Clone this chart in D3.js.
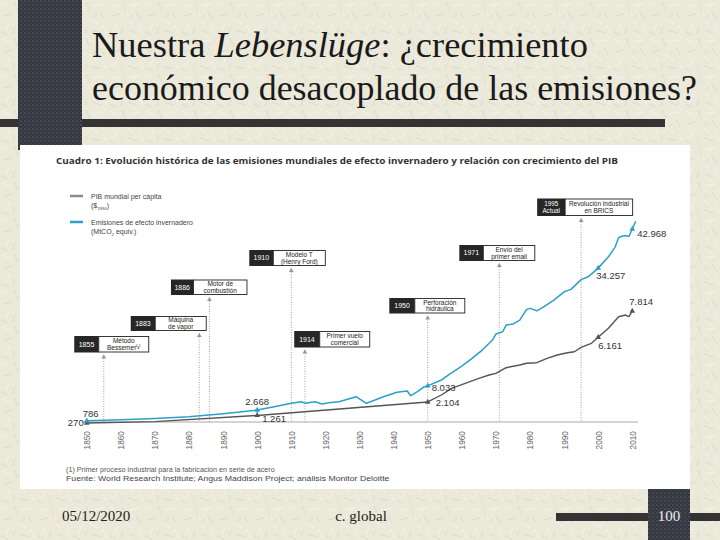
<!DOCTYPE html>
<html>
<head>
<meta charset="utf-8">
<script src="https://cdn.jsdelivr.net/npm/d3@7/dist/d3.min.js"></script>
<style>
  html, body { margin: 0; padding: 0; background: #ebe9da; }
  svg { display: block; }
</style>
</head>
<body>
<svg id="chart" width="720" height="540"></svg>
<script>
// ---------------- DATA ----------------
const emisYears  = [1850,1860,1870,1880,1890,1900,1905,1910,1913,1914,1917,1919,1921,1924,1929,1932,1934,1937,1941,1944,1945,1947,1949,1950,1954,1956,1960,1963,1966,1969,1970,1972,1973,1975,1977,1979,1980,1982,1984,1987,1990,1992,1995,1997,1998,2000,2003,2005,2006,2007,2008,2009,2010,2011];
const emisValues = [270,480,780,1180,1850,2668,3404,4160,4516,4160,4516,4004,4294,4516,5628,4160,4738,5628,6607,6897,5851,6741,7853,8033,9344,10456,12458,14171,16018,18242,19577,20089,21579,21802,22692,25072,25295,24761,25651,27141,28988,29522,31700,32325,32925,34257,36774,38999,41090,41379,41500,41300,42968,44700];

const gdpYears  = [1850,1870,1900,1950,1954,1957,1961,1965,1968,1970,1973,1977,1979,1982,1985,1988,1991,1993,1995,1998,2000,2003,2006,2008,2009,2010];
const gdpValues = [786,873,1261,2104,2543,2963,3277,3590,3798,3904,4256,4425,4532,4569,4845,5052,5197,5259,5535,5786,6161,6727,7455,7562,7455,7814];

const tickYears = [1850,1860,1870,1880,1890,1900,1910,1920,1930,1940,1950,1960,1970,1980,1990,2000,2010];

// labelled values
const emisLabelYears = [1900,1950,2000,2010];
const emisLabels     = ["2.668","8.033","34.257","42.968"];
const gdpLabelYears  = [1900,1950,2000,2010];
const gdpLabels      = ["1.261","2.104","6.161","7.814"];
const startLabels    = ["270","786"];

// milestones
const eventYears  = [1855,1883,1886,1910,1914,1950,1971,1995];
const eventDark   = [["1855"],["1883"],["1886"],["1910"],["1914"],["1950"],["1971"],["1995","Actual"]];
const eventText   = [["Método","Bessemer⁽¹⁾"],["Máquina","de vapor"],["Motor de","combustión"],["Modelo T","(Henry Ford)"],["Primer vuelo","comercial"],["Perforación","hidráulica"],["Envío del","primer email"],["Revolución industrial","en BRICS"]];

const slideTitle1 = ["Nuestra ", "Lebenslüge", ": ¿crecimiento"];
const slideTitle2 = "económico desacoplado de las emisiones?";
const chartTitle  = "Cuadro 1: Evolución histórica de las emisiones mundiales de efecto invernadero y relación con crecimiento del PIB";
const legendGdp   = ["PIB mundial per cápita", "($", "1990", ")"];
const legendEmis  = ["Emisiones de efecto invernadero", "(MtCO", "2", " equiv.)"];
const footnotes   = ["(1)  Primer proceso industrial para la fabricación en serie de acero",
                     "Fuente: World Research Institute; Angus Maddison Project; análisis Monitor Deloitte"];
const footer      = ["05/12/2020", "c. global", "100"];

// ---------------- LAYOUT ----------------
const svg = d3.select("#chart");
const BLUE = "#2ba0c8", GREY = "#555555";
const SERIF = "'Liberation Serif','Times New Roman',serif";
const SANS = "'Open Sans','DejaVu Sans',Arial,sans-serif";
const ARIAL = "'Liberation Sans',Arial,sans-serif";

// squeeze a text element horizontally so it spans targetW px starting at x
function fitText(sel, x, y, targetW) {
  sel.attr("x", 0).attr("y", 0);
  const w = sel.node().getBBox().width;
  sel.attr("transform", `translate(${x},${y}) scale(${targetW / w},1)`);
  return sel;
}

// textures
const defs = svg.append("defs");
const paper = defs.append("pattern").attr("id","paper").attr("patternUnits","userSpaceOnUse").attr("width",36).attr("height",36);
paper.append("rect").attr("width",36).attr("height",36).attr("fill","#ebe9da");
const fib = [[2,3,9,7,"#f6f5ec"],[14,2,18,11,"#dcdac7"],[22,6,31,4,"#f6f5ec"],[28,12,33,20,"#dcdac7"],[4,16,12,14,"#dcdac7"],
             [10,22,6,30,"#f6f5ec"],[17,18,25,24,"#f6f5ec"],[20,30,29,33,"#dcdac7"],[31,26,35,33,"#f6f5ec"],[1,32,8,35,"#dcdac7"],
             [15,27,13,34,"#dcdac7"],[25,14,21,19,"#dcdac7"]];
fib.forEach(f => paper.append("line").attr("x1",f[0]).attr("y1",f[1]).attr("x2",f[2]).attr("y2",f[3]).attr("stroke",f[4]).attr("stroke-width",0.9));
const dots = defs.append("pattern").attr("id","dots").attr("patternUnits","userSpaceOnUse").attr("width",4).attr("height",4);
dots.append("rect").attr("width",4).attr("height",4).attr("fill","#33363f");
dots.append("circle").attr("cx",1).attr("cy",1).attr("r",0.8).attr("fill","#5d6070");
dots.append("circle").attr("cx",3).attr("cy",3).attr("r",0.7).attr("fill","#4a4d5b");

// slide background furniture
svg.append("rect").attr("x",0).attr("y",0).attr("width",720).attr("height",540).attr("fill","url(#paper)");
svg.append("rect").attr("x",0).attr("y",119).attr("width",665).attr("height",8).attr("fill","#333333");
svg.append("rect").attr("x",18).attr("y",0).attr("width",64).attr("height",150).attr("fill","url(#dots)");
svg.append("rect").attr("x",556).attr("y",513).attr("width",164).attr("height",8).attr("fill","#333333");
svg.append("rect").attr("x",648).attr("y",489).attr("width",42).attr("height",51).attr("fill","url(#dots)");

// slide title
const t1 = svg.append("text").attr("font-family",SERIF).attr("font-size",36).attr("fill","#1a1a1a");
t1.append("tspan").text(slideTitle1[0]);
t1.append("tspan").attr("font-style","italic").text(slideTitle1[1]);
t1.append("tspan").text(slideTitle1[2]);
fitText(t1, 92, 57, 496);
const t2 = svg.append("text").attr("font-family",SERIF).attr("font-size",36).attr("fill","#1a1a1a").text(slideTitle2);
fitText(t2, 92, 100, 605);

// chart picture area
svg.append("rect").attr("x",20).attr("y",145).attr("width",670).attr("height",344).attr("fill","#ffffff");

svg.append("text").attr("x",56).attr("y",164)
  .attr("font-family",SANS).attr("font-weight","bold").attr("font-size",8.8).attr("fill","#333")
  .attr("textLength",562).attr("lengthAdjust","spacingAndGlyphs").text(chartTitle);

// legend
svg.append("line").attr("x1",70).attr("x2",83).attr("y1",196).attr("y2",196).attr("stroke","#8a8a8a").attr("stroke-width",2.5);
svg.append("text").attr("x",91).attr("y",199).attr("font-family",ARIAL).attr("font-size",7).attr("fill","#444").text(legendGdp[0]);
const lg2 = svg.append("text").attr("x",91).attr("y",208).attr("font-family",ARIAL).attr("font-size",7).attr("fill","#444");
lg2.append("tspan").text(legendGdp[1]);
lg2.append("tspan").attr("font-size",4.3).attr("dy",1.8).text(legendGdp[2]);
lg2.append("tspan").attr("dy",-1.8).text(legendGdp[3]);
svg.append("line").attr("x1",70).attr("x2",83).attr("y1",222).attr("y2",222).attr("stroke",BLUE).attr("stroke-width",2.5);
svg.append("text").attr("x",91).attr("y",225).attr("font-family",ARIAL).attr("font-size",7).attr("fill","#444").text(legendEmis[0]);
const lg4 = svg.append("text").attr("x",91).attr("y",234).attr("font-family",ARIAL).attr("font-size",7).attr("fill","#444");
lg4.append("tspan").text(legendEmis[1]);
lg4.append("tspan").attr("font-size",4.3).attr("dy",1.8).text(legendEmis[2]);
lg4.append("tspan").attr("dy",-1.8).text(legendEmis[3]);

// scales
const x = d3.scaleLinear().domain([1850, 2010]).range([86.7, 632.3]);
const yEm = d3.scaleLinear().domain([0, 42968]).range([422, 229]);
const yGdp = d3.scaleLinear().domain([786, 7814]).range([423, 311]);
const AXIS_Y = 422;

// milestone annotations
const boxTop   = [336, 316, 279.5, 250, 331, 298, 245, 198.5];
const boxShift = [-29.5, -68.5, -38.5, -42, -10.7, -38.4, -40, -44];
const darkW    = [24.5, 24.5, 22.5, 24, 25.5, 25.5, 24, 28];
const whiteW   = [50, 51, 53.5, 52, 50, 50, 51.5, 67.5];
const boxH     = [16.5, 15, 15.5, 16, 16.5, 15.5, 16, 17.5];

eventYears.forEach((yr, i) => {
  const ax = x(yr);
  const bx = ax + boxShift[i], by = boxTop[i], h = boxH[i];
  const ay = by + h + 3.5;
  svg.append("line").attr("x1",ax).attr("x2",ax).attr("y1",ay).attr("y2",AXIS_Y)
    .attr("stroke","#9a9a9a").attr("stroke-width",0.9).attr("stroke-dasharray","1,1.5");
  svg.append("path").attr("d", d3.symbol(d3.symbolTriangle, 10)())
    .attr("transform",`translate(${ax},${ay+1})`).attr("fill","#9a9a9a");
  svg.append("rect").attr("x",bx).attr("y",by).attr("width",darkW[i]).attr("height",h).attr("fill","#262626");
  svg.append("rect").attr("x",bx+darkW[i]).attr("y",by+0.5).attr("width",whiteW[i]).attr("height",h-1)
    .attr("fill","#fff").attr("stroke","#222").attr("stroke-width",0.9);
  const dl = eventDark[i];
  dl.forEach((s, k) => {
    svg.append("text").attr("x",bx+darkW[i]/2).attr("y",by+h/2+2.4+(k-(dl.length-1)/2)*6.8)
      .attr("text-anchor","middle").attr("font-family",ARIAL).attr("font-size",dl.length>1?6.3:7).attr("fill","#fff").text(s);
  });
  const wl = eventText[i];
  wl.forEach((s, k) => {
    svg.append("text").attr("x",bx+darkW[i]+whiteW[i]/2).attr("y",by+h/2+2.3+(k-0.5)*6.8)
      .attr("text-anchor","middle").attr("font-family",ARIAL).attr("font-size",6.5).attr("fill","#222").text(s);
  });
});

// axis
svg.append("line").attr("x1",82).attr("x2",638).attr("y1",AXIS_Y).attr("y2",AXIS_Y).attr("stroke","#aaaaaa").attr("stroke-width",1);
const axisG = svg.append("g").attr("transform",`translate(0,${AXIS_Y})`)
  .call(d3.axisBottom(x).tickValues(tickYears).tickFormat(d3.format("d")).tickSize(0));
axisG.select(".domain").remove();
axisG.selectAll("text")
  .attr("transform","rotate(-90)").attr("text-anchor","end")
  .attr("x",-9).attr("y",0).attr("dy","0.35em")
  .attr("font-family",ARIAL).attr("font-size",8.3).attr("fill","#666");

// lines
const emisData = emisYears.map((y, i) => [y, emisValues[i]]);
const gdpData  = gdpYears.map((y, i) => [y, gdpValues[i]]);
svg.append("path").datum(gdpData)
  .attr("d", d3.line().x(d => x(d[0])).y(d => yGdp(d[1])))
  .attr("fill","none").attr("stroke",GREY).attr("stroke-width",1.4).attr("stroke-linejoin","round");
svg.append("path").datum(emisData)
  .attr("d", d3.line().x(d => x(d[0])).y(d => yEm(d[1])))
  .attr("fill","none").attr("stroke",BLUE).attr("stroke-width",1.5).attr("stroke-linejoin","round");

// stem linking the 1900 markers
const e1900 = emisValues[emisYears.indexOf(1900)], g1900 = gdpValues[gdpYears.indexOf(1900)];
svg.append("line").attr("x1",x(1900)).attr("x2",x(1900)).attr("y1",yEm(e1900)).attr("y2",yGdp(g1900))
  .attr("stroke",BLUE).attr("stroke-width",1);

// markers
const tri = d3.symbol(d3.symbolTriangle, 14)();
[1850, ...gdpLabelYears].forEach(yr => {
  const v = gdpValues[gdpYears.indexOf(yr)];
  svg.append("path").attr("d",tri).attr("transform",`translate(${x(yr)},${yGdp(v)})`).attr("fill",GREY);
});
[1850, ...emisLabelYears].forEach(yr => {
  const v = emisValues[emisYears.indexOf(yr)];
  svg.append("path").attr("d",tri).attr("transform",`translate(${x(yr)},${yEm(v)})`).attr("fill",BLUE);
});

// value labels
const emisOff = [[-12,-5],[4,5.5],[-2,11],[5,7.5]];
const gdpOff  = [[5,7],[8,4.5],[0,12],[-3,-6]];
emisLabelYears.forEach((yr, i) => {
  const v = emisValues[emisYears.indexOf(yr)];
  svg.append("text").attr("x",x(yr)+emisOff[i][0]).attr("y",yEm(v)+emisOff[i][1])
    .attr("font-family",ARIAL).attr("font-size",9.5).attr("fill","#333").text(emisLabels[i]);
});
gdpLabelYears.forEach((yr, i) => {
  const v = gdpValues[gdpYears.indexOf(yr)];
  svg.append("text").attr("x",x(yr)+gdpOff[i][0]).attr("y",yGdp(v)+gdpOff[i][1])
    .attr("font-family",ARIAL).attr("font-size",9.5).attr("fill","#333").text(gdpLabels[i]);
});
svg.append("text").attr("x",x(1850)-3).attr("y",yEm(emisValues[0])+5.5).attr("text-anchor","end")
  .attr("font-family",ARIAL).attr("font-size",9.5).attr("fill","#333").text(startLabels[0]);
svg.append("text").attr("x",x(1850)-4).attr("y",yGdp(gdpValues[0])-6)
  .attr("font-family",ARIAL).attr("font-size",9.5).attr("fill","#333").text(startLabels[1]);

// footnotes
fitText(svg.append("text").attr("font-family",ARIAL).attr("font-size",7).attr("fill","#555").text(footnotes[0]), 66, 471.5, 209);
fitText(svg.append("text").attr("font-family",ARIAL).attr("font-size",7.5).attr("fill","#444").text(footnotes[1]), 66, 480.5, 324);

// slide footer
svg.append("text").attr("x",62).attr("y",521).attr("font-family",SERIF).attr("font-size",15).attr("fill","#222").text(footer[0]);
svg.append("text").attr("x",361).attr("y",521).attr("text-anchor","middle").attr("font-family",SERIF).attr("font-size",15).attr("fill","#222").text(footer[1]);
svg.append("text").attr("x",669).attr("y",521).attr("text-anchor","middle").attr("font-family",SERIF).attr("font-size",15).attr("fill","#eeeeee").text(footer[2]);
</script>
</body>
</html>
